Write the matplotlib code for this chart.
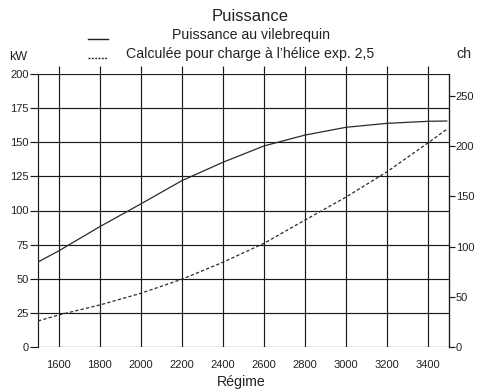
import matplotlib
matplotlib.use('Agg')
import matplotlib.pyplot as plt
from matplotlib.lines import Line2D
from matplotlib import font_manager

# régime moteur (tr/min) et puissances (kW)
regime = [1500, 1600, 1800, 2000, 2200, 2400, 2600, 2800, 3000, 3200, 3400, 3490]
p_vilebrequin = [62.2, 70.3, 88.1, 104.8, 121.9, 135.4, 147.4, 155.4, 161.1, 164.0, 165.5, 165.7]
p_helice = [18.9, 23.3, 30.6, 39.2, 49.5, 62.0, 75.9, 93.0, 109.9, 128.5, 149.8, 159.6]

x_ticks = [1600, 1800, 2000, 2200, 2400, 2600, 2800, 3000, 3200, 3400]
kw_ticks = [0, 25, 50, 75, 100, 125, 150, 175, 200]
ch_ticks = [0, 50, 100, 150, 200, 250]
KW_TO_CH = 1.36

plt.rcParams['font.family'] = ['Liberation Sans', 'DejaVu Sans']

# police étroite pour les graduations si elle existe
try:
    font_manager.findfont('Liberation Sans Narrow', fallback_to_default=False)
    tick_font = 'Liberation Sans Narrow'
    tick_size = 8.8
except Exception:
    tick_font = 'Liberation Sans'
    tick_size = 8.0

W, H = 490, 392
fig = plt.figure(figsize=(W / 100, H / 100), dpi=100)
ax = fig.add_axes([38.1 / W, 1 - 346.7 / H, (448.8 - 38.1) / W, (346.7 - 74.3) / H])

grid_c = '#1a1a1a'
glw = 0.85
ax.plot(regime, p_vilebrequin, color='#2a2a2a', lw=0.9, zorder=3)
ax.plot(regime, p_helice, color='#2a2a2a', lw=0.9, ls=(0, (2.6, 1.8)), zorder=3)

ax.set_xlim(1500, 3500)
ax.set_ylim(0, 200)
ax.set_xticks(x_ticks)
ax.set_yticks(kw_ticks)
ax.grid(True, color=grid_c, lw=glw)
ax.set_axisbelow(True)
for s in ['top', 'bottom']:
    ax.spines[s].set_visible(False)
for s in ['left', 'right']:
    ax.spines[s].set_color(grid_c)
    ax.spines[s].set_linewidth(glw)

ax.tick_params(axis='x', bottom=False, top=True, labelbottom=True, direction='out',
               length=5.6, width=glw, color=grid_c, pad=4)
ax.tick_params(axis='y', direction='out', length=5.8, width=glw, color=grid_c, pad=0.8)
for lab in ax.get_xticklabels() + ax.get_yticklabels():
    lab.set_fontfamily(tick_font)
    lab.set_fontsize(tick_size)
    lab.set_color('#222222')

ax2 = ax.twinx()
ax2.set_ylim(0, 200 * KW_TO_CH)
ax2.set_yticks(ch_ticks)
for s in ['top', 'bottom', 'left']:
    ax2.spines[s].set_visible(False)
ax2.spines['right'].set_color(grid_c)
ax2.spines['right'].set_linewidth(glw)
ax2.tick_params(axis='y', direction='out', length=4.2, width=glw, color=grid_c, pad=0.8)
for lab in ax2.get_yticklabels():
    lab.set_fontfamily(tick_font)
    lab.set_fontsize(tick_size)
    lab.set_color('#222222')

# titre, légende et unités
tc = '#222222'
fig.text(250.5 / W, 1 - 16.7 / H, 'Puissance', ha='center', va='center', fontsize=12, color=tc)
fig.text(250.5 / W, 1 - 35 / H, 'Puissance au vilebrequin', ha='center', va='center',
         fontsize=10.2, color=tc)
fig.text(250 / W, 1 - 54 / H, 'Calculée pour charge à l’hélice exp. 2,5', ha='center',
         va='center', fontsize=10.2, color=tc)
fig.add_artist(Line2D([88 / W, 108 / W], [1 - 39.3 / H, 1 - 39.3 / H], color='#222222', lw=1.0))
fig.add_artist(Line2D([88 / W, 108 / W], [1 - 58 / H, 1 - 58 / H], color='#222222', lw=1.0,
                      ls=(0, (1.4, 1.0))))
fig.text(18 / W, 1 - 56.5 / H, 'kW', ha='center', va='center', fontsize=9.0, color=tc,
         fontfamily=tick_font)
fig.text(464 / W, 1 - 54.3 / H, 'ch', ha='center', va='center', fontsize=10.2, color=tc)
fig.text(241.5 / W, 1 - 381.7 / H, 'Régime', ha='center', va='center', fontsize=10.2, color=tc)

fig.savefig('out.png', dpi=100)
